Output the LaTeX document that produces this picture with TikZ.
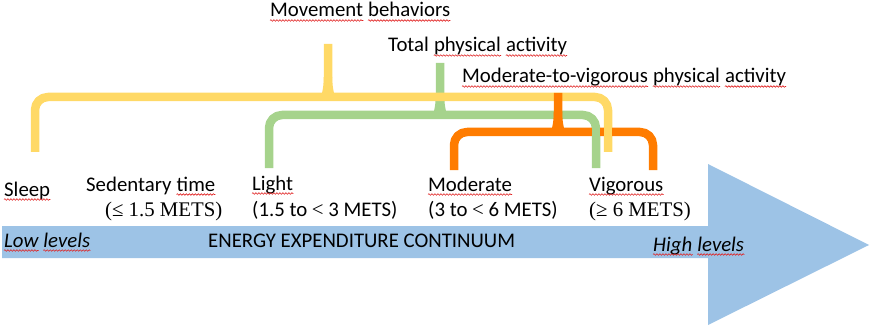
\documentclass[tikz,border=0pt]{standalone}
\usepackage{fontspec}
\setmainfont{Carlito}
\newfontfamily\serifnum{Liberation Serif}
\usetikzlibrary{decorations.pathmorphing}

\definecolor{arrowblue}{HTML}{9DC3E6}
\definecolor{bryellow}{HTML}{FFD966}
\definecolor{brgreen}{HTML}{A6D38C}
\definecolor{brorange}{HTML}{FF7C00}
\definecolor{spellred}{HTML}{E02020}

\tikzset{
  lbl/.style={inner sep=0pt, anchor=base west, font=\fontsize{20.8}{24}\selectfont},
  ilbl/.style={lbl, font=\fontsize{20.8}{24}\selectfont\itshape},
  wavy/.style={spellred, line width=0.6pt,
    decorate, decoration={snake, amplitude=0.8pt, segment length=3pt}},
  bracestroke/.style={line width=8.5pt, line join=round},
}

% curly bracket: colour, left x, right x, bar y, spike x, spike top y, leg bottom y
\newcommand\curlybrace[7]{%
  \draw[bracestroke, #1] (#2,#7) [rounded corners=13pt] |- (#5-14,#4) [sharp corners]
    .. controls (#5-4,#4) and (#5,#4-4) .. (#5,#4-20) -- (#5,#6);
  \draw[bracestroke, #1] (#3,#7) [rounded corners=13pt] |- (#5+14,#4) [sharp corners]
    .. controls (#5+4,#4) and (#5,#4-4) .. (#5,#4-20);
}
\newcommand\wavyunder[1]{\draw[wavy] ([yshift=-3.5pt]#1.base west) -- ([yshift=-3.5pt]#1.base east);}

\begin{document}
\begin{tikzpicture}[x=1pt,y=-1pt]
\useasboundingbox (0,0) rectangle (870,326);

% energy expenditure arrow
\fill[arrowblue] (2,226) -- (708,226) -- (708,164) -- (869,245) -- (708,325)
  -- (708,258) -- (2,258) -- cycle;

% brackets
\curlybrace{brgreen}{269}{596}{115}{440}{63}{168}
\curlybrace{bryellow}{35}{608}{97}{328}{44}{152}
\curlybrace{brorange}{454}{653}{132}{558}{93}{170}
% legs that pass over the orange bar
\draw[bracestroke, brgreen] (596,127) -- (596,168);
\draw[bracestroke, bryellow] (608,110) -- (608,152);

% group titles
\node[lbl] (mv) at (270,17) {Movement};
\node[lbl] (bh) at ([xshift=4.7pt]mv.base east) {behaviors};
\node[lbl] (tot) at (388,52) {Total};
\node[lbl] (phya) at ([xshift=4.7pt]tot.base east) {physical};
\node[lbl] (acta) at ([xshift=4.7pt]phya.base east) {activity};
\node[lbl] (mvg) at (462,83) {Moderate-to-vigorous};
\node[lbl] (phyb) at ([xshift=4.7pt]mvg.base east) {physical};
\node[lbl] (actb) at ([xshift=4.7pt]phyb.base east) {activity};

% categories
\node[lbl] (slp) at (4,196) {Sleep};
\node[lbl] (sed) at (86,191) {Sedentary};
\node[lbl] (tim) at ([xshift=4.7pt]sed.base east) {time};
\node[lbl] (sedm) at (105,216) {\serifnum(≤ 1.5 METS)};
\node[lbl] (lgt) at (252,190) {Light};
\node[lbl] (lgtm) at (252,216) {(1.5 to {\serifnum<} 3 METS)};
\node[lbl] (mod) at (428,191) {Moderate};
\node[lbl] (modm) at (428,216) {(3 to {\serifnum<} 6 METS)};
\node[lbl] (vig) at (589,191) {Vigorous};
\node[lbl] (vigm) at (589,216) {\serifnum(≥ 6 METS)};

% arrow labels
\node[ilbl] (low) at (4,247) {Low};
\node[ilbl] (leva) at ([xshift=4.7pt]low.base east) {levels};
\node[lbl] (eec) at (208,247) {ENERGY EXPENDITURE CONTINUUM};
\node[ilbl] (high) at (653,251) {High};
\node[ilbl] (levb) at ([xshift=4.7pt]high.base east) {levels};

% spelling marks
\foreach \w in {mv,bh,phya,acta,mvg,phyb,actb,slp,tim,lgt,mod,vig,low,leva,high,levb}
  {\wavyunder{\w}}
\end{tikzpicture}
\end{document}
